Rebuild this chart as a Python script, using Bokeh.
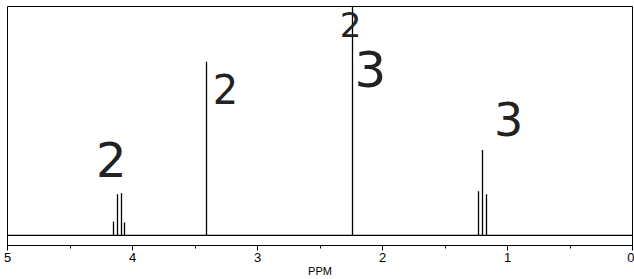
from bokeh.plotting import figure
from bokeh.models import Range1d, Label, FixedTicker, ColumnDataSource
from bokeh.embed import file_html
from bokeh.resources import INLINE

# ---- data ----
peak_ppm = [4.152, 4.120, 4.088, 4.064, 3.408, 2.240, 1.232, 1.200, 1.168]
peak_height = [14, 41, 42, 13, 173, 240, 44, 85, 41]
tick_values = [0, 1, 2, 3, 4, 5]
tick_labels = ["0", "1", "2", "3", "4", "5"]
minor_values = [0.5, 1.5, 2.5, 3.5, 4.5]
# handwritten integration notes: (text, ppm, height)
note_text = ["2", "2", "2", "3", "3"]
note_ppm = [4.17, 3.256, 2.256, 2.096, 0.99]
note_y = [76, 146, 210, 166, 116]
note_size = ["48px", "40px", "34px", "50px", "46px"]

p = figure(width=634, height=279, x_range=Range1d(5, 0), y_range=Range1d(-10, 228),
           output_backend="svg", toolbar_location=None,
           min_border_left=7, min_border_right=2, min_border_top=6, min_border_bottom=30)
p.background_fill_color = "white"
p.border_fill_color = "white"
p.outline_line_color = "black"
p.outline_line_width = 1
p.xgrid.visible = False
p.ygrid.visible = False
p.yaxis.visible = False

ax = p.xaxis[0]
ax.ticker = FixedTicker(ticks=tick_values, minor_ticks=minor_values)
ax.major_label_overrides = {v: s for v, s in zip(tick_values, tick_labels)}
ax.major_label_text_font = "Liberation Sans"
ax.major_label_text_font_size = "13px"
ax.major_label_text_color = "black"
ax.major_label_standoff = 2
ax.major_tick_out = 5
ax.major_tick_in = 0
ax.minor_tick_out = 3
ax.minor_tick_in = 0
ax.axis_line_color = "black"
ax.major_tick_line_color = "black"
ax.minor_tick_line_color = "black"
ax.axis_label = "PPM"
ax.axis_label_standoff = 0
ax.axis_label_text_font = "Liberation Sans"
ax.axis_label_text_font_size = "11px"
ax.axis_label_text_font_style = "normal"
ax.axis_label_text_color = "black"

# baseline
p.line(x=[5, 0], y=[0, 0], line_color="black", line_width=1.2)

# peaks (stick spectrum)
src = ColumnDataSource(dict(x=peak_ppm, y0=[0] * len(peak_ppm), y1=peak_height))
p.segment(x0="x", y0="y0", x1="x", y1="y1", source=src, line_color="black", line_width=1.3)

# handwritten notes
for t, xx, yy, fs in zip(note_text, note_ppm, note_y, note_size):
    p.add_layout(Label(x=xx, y=yy, text=t, text_align="center", text_baseline="middle",
                       text_font="DejaVu Sans", text_font_size=fs, text_color="#222222"))

open("out.html", "w").write(file_html(p, INLINE))
